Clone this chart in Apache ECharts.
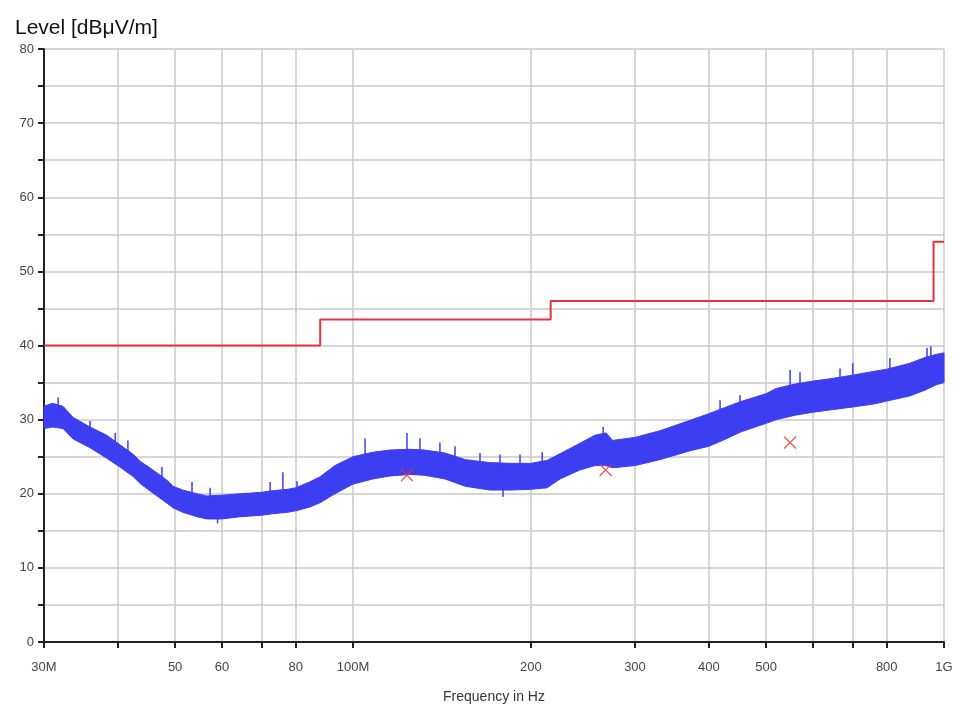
<!DOCTYPE html>
<html>
<head>
<meta charset="utf-8">
<title>Level [dBμV/m]</title>
<script src="https://cdn.jsdelivr.net/npm/echarts@6/dist/echarts.min.js"></script>
<style>
  html, body { margin: 0; background: #fff; }
  #main { width: 956px; height: 710px; }
</style>
</head>
<body>
<div id="main"></div>
<script>
var freqMHz    = [30, 31.0, 32.3, 33.6, 35.9, 38.3, 40.5, 42.5, 43.6, 45.5, 48.5, 49.6, 51.5, 54.5, 56.6, 60, 64.4, 70.1, 73, 77.5, 80, 84.5, 88, 93.2, 100, 108, 115.5, 125, 132, 143, 155, 170.5, 184.4, 200, 213, 224, 242, 256.7, 268, 275, 300, 330.6, 371.8, 400, 425, 451.6, 500, 520, 560, 600, 641, 700, 760, 800, 875.7, 930, 970, 1000];
var lowerLevel = [28.8, 29.0, 28.8, 27.4, 26.2, 24.8, 23.5, 22.3, 21.4, 20.3, 18.7, 18.1, 17.5, 16.9, 16.6, 16.6, 16.9, 17.1, 17.3, 17.5, 17.7, 18.2, 18.8, 20.0, 21.3, 22.0, 22.4, 22.6, 22.5, 22.0, 21.0, 20.5, 20.5, 20.6, 20.8, 22.0, 23.2, 23.8, 23.8, 23.5, 23.8, 24.6, 25.8, 26.4, 27.3, 28.3, 29.5, 30.0, 30.6, 31.0, 31.3, 31.7, 32.1, 32.5, 33.2, 34.0, 34.7, 35.0];
var upperLevel = [31.8, 32.2, 31.8, 30.3, 29.0, 27.9, 26.5, 25.3, 24.4, 23.4, 21.8, 21.0, 20.5, 20.0, 19.7, 19.8, 20.0, 20.2, 20.4, 20.6, 20.8, 21.6, 22.3, 23.8, 25.0, 25.6, 25.9, 26.0, 25.9, 25.5, 24.6, 24.2, 24.1, 24.1, 24.5, 25.4, 26.8, 27.9, 28.2, 27.2, 27.6, 28.5, 29.9, 30.8, 31.6, 32.4, 33.5, 34.2, 34.8, 35.2, 35.5, 36.0, 36.5, 36.8, 37.6, 38.4, 38.8, 39.0];

// single noise spikes sticking out of the band: [MHz, from, to]
var noiseSpikes = [
  [31.7, 30.5, 33.0], [35.9, 27.5, 29.8], [39.6, 26.5, 28.2], [41.6, 25, 27.2], [47.5, 21, 23.6],
  [53.4, 19, 21.6], [57.3, 18.5, 20.8], [59, 17.5, 16.0], [72.4, 19, 21.6], [76.1, 19.5, 22.9],
  [80.4, 19.5, 21.7], [104.8, 24, 27.5], [123.4, 25, 28.2], [129.8, 25, 27.5], [140.3, 24.5, 26.9],
  [148.8, 24, 26.4], [164, 23.5, 25.5], [177.3, 23, 25.3], [179.4, 21.5, 19.6], [191.7, 23, 25.3],
  [209, 23.5, 25.6], [265, 27, 29.0], [417.9, 30.5, 32.6], [451.7, 31.5, 33.3], [549, 33.5, 36.7],
  [570.6, 34, 36.4], [666.9, 35, 36.9], [701, 35.2, 37.6], [810, 36.2, 38.3], [936, 38, 39.7],
  [950, 38, 39.9]
];

// limit line
var limitFreq  = [30, 88, 88, 216, 216, 960, 960, 1000];
var limitLevel = [40, 40, 43.5, 43.5, 46, 46, 54, 54];

// final measurement points (x markers)
var peakFreq  = [123.4, 267.6, 549];
var peakLevel = [22.5, 23.2, 26.9];

// axis ticks
var tickFreq  = [30, 40, 50, 60, 70, 80, 100, 200, 300, 400, 500, 600, 700, 800, 1000];
var labelFreq = [30, 50, 60, 80, 100, 200, 300, 400, 500, 800, 1000];
var labelText = { 30: '30M', 100: '100M', 1000: '1G' };

function zip(xs, ys) {
  return xs.map(function (x, i) { return [x, ys[i]]; });
}

var traceBlue = '#3d3df2';
var bandData = freqMHz.map(function (f, i) { return [f, lowerLevel[i], upperLevel[i]]; });

var chart = echarts.init(document.getElementById('main'));

chart.setOption({
  backgroundColor: '#fff',
  animation: false,
  textStyle: { fontFamily: 'Liberation Sans, Arial, sans-serif' },
  title: {
    text: 'Level [dBμV/m]',
    left: 10,
    top: 13,
    textStyle: { fontSize: 21, fontWeight: 'normal', color: '#111' }
  },
  grid: { left: 44, right: 12, top: 49, bottom: 68, containLabel: false, outerBoundsMode: 'none' },
  xAxis: {
    type: 'log',
    logBase: 10,
    min: 30,
    max: 1000,
    name: 'Frequency in Hz',
    nameLocation: 'middle',
    nameGap: 48,
    nameTextStyle: { color: '#333', fontSize: 14 },
    axisLine: { show: true, onZero: false, lineStyle: { color: '#222', width: 2 } },
    axisTick: { show: true, customValues: tickFreq, length: 6, lineStyle: { color: '#222', width: 2 } },
    axisLabel: {
      customValues: labelFreq,
      color: '#444',
      fontSize: 13,
      margin: 19,
      formatter: function (v) {
        var r = Math.round(v);
        return labelText[r] || String(r);
      }
    },
    splitLine: { show: true, lineStyle: { color: '#c8c8c8', width: 1.5 } }
  },
  yAxis: {
    type: 'value',
    min: 0,
    max: 80,
    interval: 5,
    axisLine: { show: true, lineStyle: { color: '#222', width: 2 } },
    axisTick: { show: true, length: 6, lineStyle: { color: '#222', width: 2 } },
    axisLabel: {
      color: '#444',
      fontSize: 13,
      margin: 10,
      formatter: function (v) { return v % 10 === 0 ? String(v) : ''; }
    },
    splitLine: { show: true, lineStyle: { color: '#c8c8c8', width: 1.5 } }
  },
  series: [
    {
      // noise band: one polygon through upper envelope, back along lower
      name: 'trace',
      type: 'custom',
      encode: { x: 0, y: [1, 2] },
      renderItem: function (params, api) {
        if (params.dataIndex !== 0) return null;
        var top = bandData.map(function (d) { return api.coord([d[0], d[2]]); });
        var bottom = bandData.map(function (d) { return api.coord([d[0], d[1]]); }).reverse();
        return {
          type: 'polygon',
          shape: { points: top.concat(bottom) },
          style: { fill: traceBlue, stroke: traceBlue, lineWidth: 1 }
        };
      },
      data: bandData,
      z: 2
    },
    {
      name: 'spikes',
      type: 'custom',
      encode: { x: 0, y: [1, 2] },
      renderItem: function (params, api) {
        var a = api.coord([api.value(0), api.value(1)]);
        var b = api.coord([api.value(0), api.value(2)]);
        return {
          type: 'line',
          shape: { x1: a[0], y1: a[1], x2: b[0], y2: b[1] },
          style: { stroke: traceBlue, lineWidth: 1.5 }
        };
      },
      data: noiseSpikes,
      z: 3
    },
    {
      name: 'limit',
      type: 'line',
      symbol: 'none',
      lineStyle: { color: '#e5323e', width: 2 },
      data: zip(limitFreq, limitLevel),
      z: 4
    },
    {
      name: 'final',
      type: 'scatter',
      symbol: 'path://M0,0 L10,10 M10,0 L0,10',
      symbolSize: 12,
      itemStyle: { color: 'transparent', borderColor: '#e03a3a', borderWidth: 1.4 },
      data: zip(peakFreq, peakLevel),
      z: 5
    }
  ]
});
</script>
</body>
</html>
